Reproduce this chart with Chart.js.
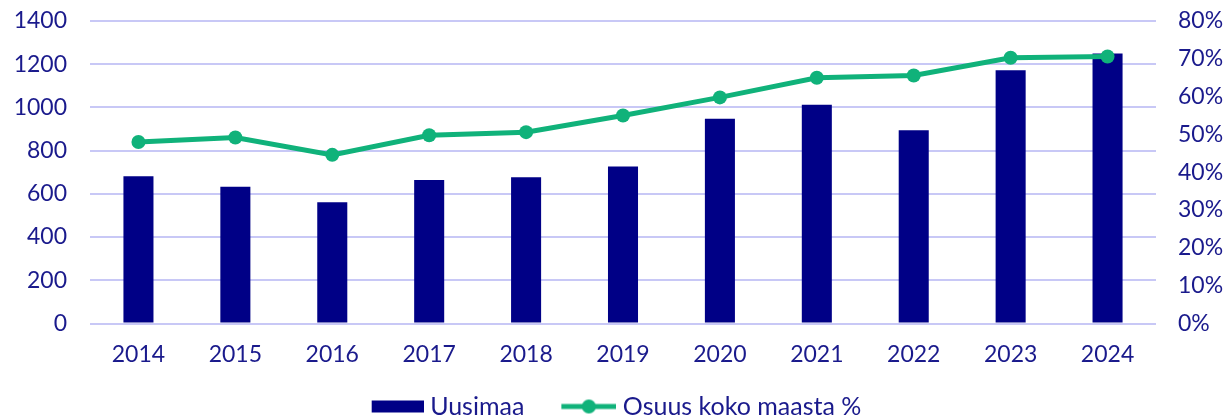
<!DOCTYPE html>
<html>
<head>
<meta charset="utf-8">
<script src="https://cdn.jsdelivr.net/npm/chart.js@4/dist/chart.umd.min.js"></script>
<style>
  html, body { margin: 0; padding: 0; background: #fff; }
  #wrap { width: 1225px; height: 419px; position: relative; }
</style>
</head>
<body>
<div id="wrap"><canvas id="chart"></canvas></div>
<script>
const years = ['2014', '2015', '2016', '2017', '2018', '2019', '2020', '2021', '2022', '2023', '2024'];
const uusimaa = [682, 633, 561, 664, 677, 727, 948, 1012, 894, 1172, 1250];
const osuusPct = [48.0, 49.2, 44.6, 49.8, 50.6, 55.0, 59.8, 65.0, 65.6, 70.3, 70.6];

const NAVY = '#000086';
const GREEN = '#10b27a';
const TEXT = '#1a1a8c';
const GRID = '#c8c8f6';
const FONT = { family: 'Lato, "Open Sans", sans-serif', size: 23 };
const LEGEND_FONT = { family: 'Lato, "Open Sans", sans-serif', size: 25 };

// legend markers as images; content sits at the right so the text gap stays small
function barMarker() {
    const c = document.createElement('canvas');
    c.width = 66; c.height = 14;
    const g = c.getContext('2d');
    g.fillStyle = NAVY;
    g.fillRect(14, 1, 52, 12);
    return c;
}
function lineMarker() {
    const c = document.createElement('canvas');
    c.width = 66; c.height = 16;
    const g = c.getContext('2d');
    g.strokeStyle = GREEN;
    g.lineWidth = 5;
    g.beginPath();
    g.moveTo(11, 8); g.lineTo(66, 8);
    g.stroke();
    g.fillStyle = GREEN;
    g.beginPath();
    g.arc(38.5, 8, 7, 0, Math.PI * 2);
    g.fill();
    return c;
}
const markers = [barMarker(), lineMarker()];

const noVertPad = scale => { scale.paddingTop = 0; scale.paddingBottom = 0; };

const ctx = document.getElementById('chart').getContext('2d');
new Chart(ctx, {
    data: {
        labels: years,
        datasets: [
            {
                type: 'bar',
                label: 'Uusimaa',
                data: uusimaa,
                backgroundColor: NAVY,
                barPercentage: 0.31,
                categoryPercentage: 1,
                yAxisID: 'y',
                order: 2
            },
            {
                type: 'line',
                label: 'Osuus koko maasta %',
                data: osuusPct,
                borderColor: GREEN,
                backgroundColor: GREEN,
                borderWidth: 5,
                pointRadius: 7,
                pointHoverRadius: 7,
                pointBorderWidth: 0,
                tension: 0,
                yAxisID: 'y1',
                order: 1
            }
        ]
    },
    options: {
        responsive: true,
        maintainAspectRatio: false,
        animation: false,
        layout: { autoPadding: false, padding: { top: 21, left: 0, right: 0, bottom: -10 } },
        plugins: {
            tooltip: { enabled: false },
            legend: {
                position: 'bottom',
                sort: (a, b) => a.datasetIndex - b.datasetIndex,
                labels: {
                    color: TEXT,
                    font: LEGEND_FONT,
                    usePointStyle: true,
                    pointStyleWidth: 54,
                    padding: 32,
                    generateLabels: chart => chart.data.datasets.map((ds, i) => ({
                        text: ds.label,
                        datasetIndex: i,
                        pointStyle: markers[i],
                        fontColor: TEXT,
                        hidden: false,
                        lineWidth: 0
                    }))
                }
            }
        },
        scales: {
            x: {
                grid: { display: false, drawTicks: false },
                border: { display: false },
                ticks: { color: TEXT, font: FONT, padding: 17, maxRotation: 0 },
                afterFit: scale => { scale.height = 38.5; }
            },
            y: {
                position: 'left',
                min: 0,
                max: 1400,
                ticks: { stepSize: 200, color: TEXT, font: FONT, padding: 23, callback: v => String(v) },
                grid: { color: GRID, lineWidth: 2, drawTicks: false },
                border: { display: false },
                afterFit: scale => { scale.width = 90; noVertPad(scale); }
            },
            y1: {
                position: 'right',
                min: 0,
                max: 80,
                ticks: {
                    stepSize: 10,
                    color: TEXT,
                    font: FONT,
                    padding: 22,
                    callback: v => v + '%'
                },
                grid: { drawOnChartArea: false, drawTicks: false },
                border: { display: false },
                afterFit: scale => { scale.width = 69; noVertPad(scale); }
            }
        }
    }
});
</script>
</body>
</html>
